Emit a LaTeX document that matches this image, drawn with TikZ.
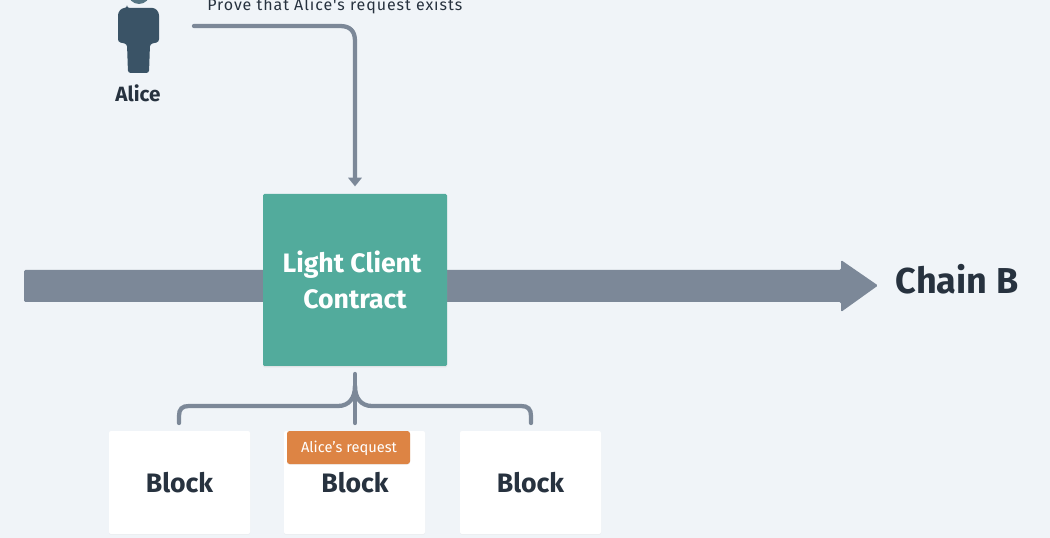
\documentclass[tikz,border=0pt]{standalone}
\usepackage{fontspec}
\setmainfont{Fira Sans}
\newfontfamily\spacedfont[LetterSpace=5.8]{Fira Sans}
\usetikzlibrary{arrows.meta,shadows}
\definecolor{bgc}{HTML}{F0F4F8}
\definecolor{linec}{HTML}{7C8898}
\definecolor{tealc}{HTML}{52AB9C}
\definecolor{orangec}{HTML}{DD8444}
\definecolor{inkc}{HTML}{27323F}
\definecolor{bodyc}{HTML}{3A5366}
\definecolor{headc}{HTML}{567583}
\tikzset{
  blockbox/.style={fill=white,rounded corners=1.5pt,minimum width=105.75pt,minimum height=77.25pt,inner sep=0pt,
    general shadow={fill=black!12,opacity=.35,shadow xshift=0pt,shadow yshift=-.6pt}},
  blocktext/.style={font=\fontsize{20}{20}\selectfont\bfseries,text=inkc,inner sep=0pt},
  conn/.style={draw=linec,line width=3.2pt,line cap=round},
}
\begin{document}
\begin{tikzpicture}[x=0.75pt,y=-0.75pt]
\useasboundingbox (0,0) rectangle (1050,538);
\fill[bgc] (0,0) rectangle (1050,538);
% main chain arrow
\fill[linec,rounded corners=1pt] (24,270) -- (841,270) -- (841,260) -- (878,285.5) -- (841,312) -- (841,302) -- (24,302) -- cycle;
% person
\begin{scope}
\clip (0,0) rectangle (1050,538);
\fill[headc] (139,-7) circle (11);
\end{scope}
\fill[bodyc,rounded corners=2pt] (127,8) -- (150,8)
  .. controls (156,8) and (159,12) .. (159,18) -- (159,42) -- (150,44) -- (149,73) -- (128,73) -- (127,44) -- (118,42) -- (118,18)
  .. controls (118,12) and (121,8) .. (127,8) -- cycle;
\coordinate (alicebody) at (194,26);
\node[font=\fontsize{15.5}{15.5}\selectfont\bfseries,text=inkc,inner sep=0pt] (alice) at (138,93.5) {Alice};
\node[font=\fontsize{12}{12}\selectfont\spacedfont,text=inkc,inner sep=0pt,anchor=base west] (prove) at (207,10.5) {Prove that Alice's request exists};
% light client
\node[fill=tealc,minimum width=138pt,minimum height=129pt,inner sep=0pt,rounded corners=1pt,
  general shadow={fill=black!25,opacity=.3,shadow xshift=0pt,shadow yshift=-1pt}] (lc) at (355,280) {};
\node[font=\fontsize{20}{20}\selectfont\bfseries,text=white,inner sep=0pt] (lc1) at (352,264.5) {Light Client};
\node[font=\fontsize{20}{20}\selectfont\bfseries,text=white,inner sep=0pt] (lc2) at (355,299) {Contract};
\node[font=\fontsize{27}{27}\selectfont\bfseries,text=inkc,inner sep=0pt] (chainb) at (957,279.5) {Chain B};
% connector from Alice
\draw[conn,shorten >=5.5pt,-{Triangle[length=6.5pt,width=10pt]}] (alicebody) -- (340,26)
  .. controls (350,26) and (355,31) .. (355,41) -- (lc.north);
% blocks
\node[blockbox] (b1) at (179.5,482.5) {};
\node[blockbox] (b2) at (354.5,482.5) {};
\node[blockbox] (b3) at (530.5,482.5) {};
\node[blocktext] (t1) at (179.5,483) {Block};
\node[blocktext] (t2) at (355,483) {Block};
\node[blocktext] (t3) at (530.5,483) {Block};
\node[fill=orangec,rounded corners=2pt,minimum width=92.25pt,minimum height=24.75pt,inner sep=0pt,
  general shadow={fill=black!20,opacity=.25,shadow xshift=0pt,shadow yshift=-.6pt}] (req) at (348.5,447.5) {};
\node[font=\fontsize{11}{11}\selectfont,text=white,inner sep=0pt] (reqt) at (349,448) {Alice's request};
% bracket
\coordinate (stemtop) at (355,374);
\coordinate (stembot) at (355,423);
\coordinate (leftend) at (179,423);
\coordinate (rightend) at (531,423);
\draw[conn] (stemtop) -- (stembot);
\draw[conn] (leftend) -- (179,416) .. controls (179,409) and (182,406) .. (189,406) -- (338,406)
  .. controls (349,406) and (355,398) .. (355,386);
\draw[conn] (rightend) -- (531,416) .. controls (531,409) and (528,406) .. (521,406) -- (372,406)
  .. controls (361,406) and (355,398) .. (355,386);
\end{tikzpicture}
\end{document}
